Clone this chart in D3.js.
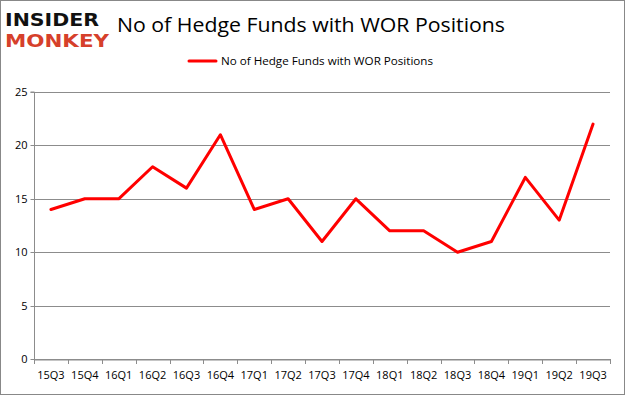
<!DOCTYPE html>
<html><head><meta charset="utf-8">
<script src="https://cdn.jsdelivr.net/npm/d3@7/dist/d3.min.js"></script>
<style>body{margin:0;background:#fff}svg{display:block}</style>
</head><body>
<script>
const categories = ["15Q3","15Q4","16Q1","16Q2","16Q3","16Q4","17Q1","17Q2","17Q3","17Q4","18Q1","18Q2","18Q3","18Q4","19Q1","19Q2","19Q3"];
const values = [14,15,15,18,16,21,14,15,11,15,12,12,10,11,17,13,22];
const yTicks = [0,5,10,15,20,25];
const seriesName = "No of Hedge Funds with WOR Positions";
const title = "No of Hedge Funds with WOR Positions";

const W = 625, H = 395;
const svg = d3.select("body").append("svg").attr("width", W).attr("height", H);
svg.append("rect").attr("x",0.5).attr("y",0.5).attr("width",W-1).attr("height",H-1)
  .attr("fill","#fff").attr("stroke","#888");

const font = "'Open Sans', 'Noto Sans', sans-serif";
const m = {left:34, right:610, top:92, bottom:359};
const x = d3.scaleBand().domain(categories).range([m.left, m.right]);
const y = d3.scaleLinear().domain([0,25]).range([m.bottom, m.top]);

// gridlines
svg.append("g").selectAll("line").data(yTicks).join("line")
  .attr("x1", m.left).attr("x2", m.right)
  .attr("y1", d=>Math.round(y(d))+0.5).attr("y2", d=>Math.round(y(d))+0.5)
  .attr("stroke", "#8c8c8c").attr("stroke-width",1);

// y axis
const ya = svg.append("g").attr("transform", `translate(${m.left+0.5},0)`)
  .call(d3.axisLeft(y).tickValues(yTicks).tickSize(4).tickPadding(3));
ya.select(".domain").attr("stroke","#8c8c8c").attr("d", `M-4,${m.top}H0V${m.bottom+0.5}`);
ya.selectAll(".tick line").attr("stroke","#8c8c8c");
ya.selectAll(".tick").attr("transform", d=>`translate(0,${Math.round(y(d))+0.5})`);
ya.selectAll("text").attr("font-family",font).attr("font-size",11).attr("fill","#000");

// x axis
const xa = svg.append("g").attr("transform", `translate(0,${m.bottom+0.5})`)
  .call(d3.axisBottom(x).tickSize(0).tickPadding(12));
xa.select(".domain").attr("stroke","#8c8c8c");
xa.selectAll("text").attr("font-family",font).attr("font-size",11).attr("fill","#000");
svg.append("g").selectAll("line").data(categories.concat([null])).join("line")
  .attr("x1",(d,i)=>Math.round(m.left + i*x.step())+0.5).attr("x2",(d,i)=>Math.round(m.left + i*x.step())+0.5)
  .attr("y1", m.bottom).attr("y2", m.bottom+5).attr("stroke","#8c8c8c");

// line
const line = d3.line().x((d,i)=>x(categories[i])+x.bandwidth()/2).y(d=>y(d));
svg.append("path").datum(values).attr("d", line).attr("fill","none")
  .attr("stroke","#ff0000").attr("stroke-width",3).attr("stroke-linejoin","round").attr("stroke-linecap","round");

// legend
svg.append("line").attr("x1",189).attr("x2",216).attr("y1",61).attr("y2",61)
  .attr("stroke","#ff0000").attr("stroke-width",3).attr("stroke-linecap","round");
svg.append("text").attr("x",221).attr("y",65).attr("font-family",font).attr("font-size",11)
  .attr("textLength",212).attr("lengthAdjust","spacingAndGlyphs").text(seriesName);

// title
svg.append("text").attr("x",117).attr("y",32).attr("font-family",font).attr("font-size",20)
  .attr("font-weight",500)
  .attr("textLength",388).attr("lengthAdjust","spacingAndGlyphs").attr("fill","#000").text(title);

// logo
svg.append("text").attr("x",5).attr("y",26).attr("font-family","'DejaVu Sans', sans-serif").attr("font-weight","bold")
  .attr("font-size",17).attr("textLength",94).attr("lengthAdjust","spacingAndGlyphs").attr("fill","#111").text("INSIDER");
svg.append("text").attr("x",5).attr("y",47).attr("font-family","'DejaVu Sans', sans-serif").attr("font-weight","bold")
  .attr("font-size",17).attr("textLength",104).attr("lengthAdjust","spacingAndGlyphs").attr("fill","#d6402b").text("MONKEY");
</script>
</body></html>
